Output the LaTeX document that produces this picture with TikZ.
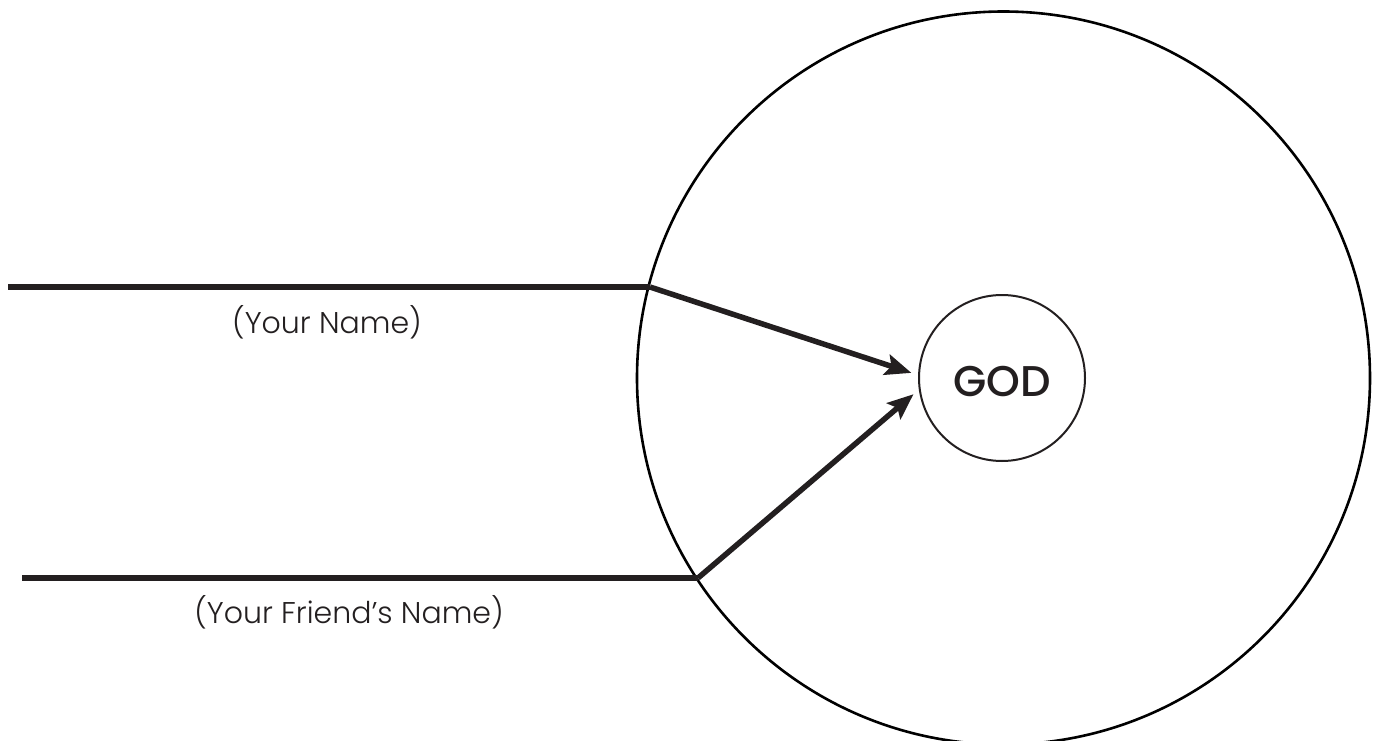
\documentclass[tikz,border=0pt]{standalone}
\usepackage{fontspec}
\setmainfont{Poppins}[UprightFont=* Light, BoldFont=* Medium]
\usetikzlibrary{arrows.meta}
\definecolor{ink}{HTML}{231F20}
\tikzset{
  thick line/.style={draw=ink, line width=5.5pt},
  arrowline/.style={thick line, -{Stealth[length=26pt,width=21pt,inset=5pt]}, shorten >=7pt},
  label text/.style={text=ink, font=\fontsize{30}{34}\selectfont, inner sep=0pt},
}
\begin{document}
\begin{tikzpicture}[x=1pt,y=-1pt]
\useasboundingbox (0,0) rectangle (1377,741);
\clip (0,0) rectangle (1377,741);
\node[circle, draw=black, line width=2.6pt, minimum size=733pt, inner sep=0pt] (world) at (1003.5,378) {};
\node[circle, draw=ink, line width=2pt, minimum size=166pt, inner sep=0pt] (god) at (1002,378) {};
\node[text=ink, font=\bfseries\fontsize{43}{45}\selectfont, inner sep=0pt] (godtext) at (1002,382) {GOD};
\coordinate (s1) at (8,287);
\coordinate (j1) at (650,287);
\coordinate (s2) at (22,578);
\coordinate (j2) at (698,578);
\draw[thick line] (s1) -- (j1);
\draw[arrowline] (j1) -- (god.178.7);
\draw[thick line] (s2) -- (j2);
\draw[arrowline] (j2) -- (god.188.3);
\node[label text] (n1) at (327,322) {(Your Name)};
\node[label text] (n2) at (349,612) {(Your Friend’s Name)};
\end{tikzpicture}
\end{document}
